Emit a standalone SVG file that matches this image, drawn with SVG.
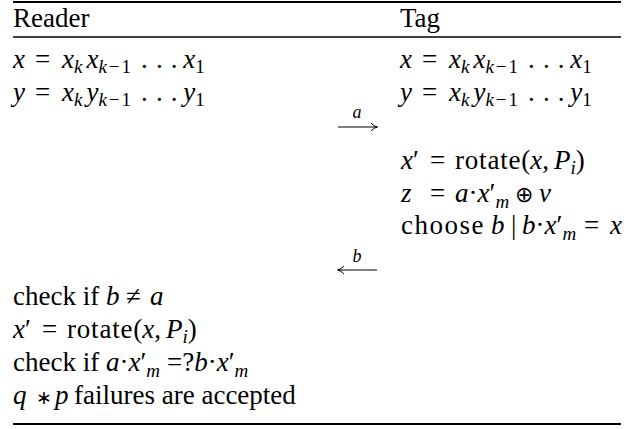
<svg xmlns="http://www.w3.org/2000/svg" width="624" height="429" viewBox="0 0 624 429">
<defs>
<style>
text { font-family: "Liberation Serif", "Times New Roman", serif; font-size: 27px; fill: #000; }
.i { font-style: italic; }
.s { font-size: 19px; }
.op { font-size: 19px; }
.oplus { font-size: 22px; }
.lbl { font-size: 18px; font-style: italic; }
.rule { stroke: #000; }
.msg { stroke: #000; stroke-width: 1.2; fill: none; }
</style>
<marker id="head" viewBox="0 0 10 10" refX="9" refY="5" markerWidth="10" markerHeight="10" markerUnits="userSpaceOnUse" orient="auto-start-reverse">
<path d="M3,1 Q6,4.5 9.5,5 Q6,5.5 3,9" fill="none" stroke="#000" stroke-width="1"/>
</marker>
</defs>
<rect width="624" height="429" fill="#fff"/>
<g id="rules">
<line class="rule" x1="13" y1="2" x2="621" y2="2" stroke-width="2"/>
<line class="rule" x1="13" y1="37" x2="621" y2="37" stroke-width="1.4"/>
<line class="rule" x1="13" y1="424" x2="621" y2="424" stroke-width="2"/>
</g>
<g id="reader">
<text x="13" y="27">Reader</text>
<g id="reader-init">
<text y="68"><tspan class="i" x="13">x</tspan><tspan x="35">=</tspan><tspan class="i" x="62">x</tspan><tspan class="s i" dy="5">k</tspan><tspan class="i" dx="4" dy="-5">x</tspan><tspan class="s" dy="5" letter-spacing="2"><tspan class="i">k</tspan>−1</tspan><tspan dx="8" dy="-5" letter-spacing="0.7">. . .</tspan><tspan class="i" dx="5">x</tspan><tspan class="s" dy="5">1</tspan></text>
<text y="101"><tspan class="i" x="13">y</tspan><tspan x="35">=</tspan><tspan class="i" x="62">x</tspan><tspan class="s i" dy="5">k</tspan><tspan class="i" dx="4" dy="-5">y</tspan><tspan class="s" dy="5" letter-spacing="2"><tspan class="i">k</tspan>−1</tspan><tspan dx="8" dy="-5" letter-spacing="0.7">. . .</tspan><tspan class="i" dx="5">y</tspan><tspan class="s" dy="5">1</tspan></text>
</g>
<text y="305"><tspan x="13">check if </tspan><tspan class="i">b</tspan><tspan x="126">≠</tspan><tspan class="i" x="150">a</tspan></text>
<text y="338"><tspan class="i" x="13">x</tspan><tspan>′</tspan><tspan x="42">=</tspan><tspan x="67" letter-spacing="0.8">rotate</tspan><tspan>(</tspan><tspan class="i">x</tspan><tspan>,</tspan><tspan class="i" dx="5">P</tspan><tspan class="s i" dy="5">i</tspan><tspan dy="-5">)</tspan></text>
<text y="371"><tspan x="13">check if </tspan><tspan class="i">a</tspan><tspan>·</tspan><tspan class="i">x</tspan><tspan>′</tspan><tspan class="s i" dy="6">m</tspan><tspan x="167" dy="-6">=?</tspan><tspan class="i">b</tspan><tspan>·</tspan><tspan class="i">x</tspan><tspan>′</tspan><tspan class="s i" dy="6">m</tspan></text>
<text y="404"><tspan class="i" x="13">q</tspan><tspan class="op" x="36">∗</tspan><tspan class="i" x="55">p</tspan><tspan x="74">failures are accepted</tspan></text>
</g>
<g id="tag">
<text x="400" y="27">Tag</text>
<g id="tag-init" transform="translate(387,0)">
<text y="68"><tspan class="i" x="13">x</tspan><tspan x="35">=</tspan><tspan class="i" x="62">x</tspan><tspan class="s i" dy="5">k</tspan><tspan class="i" dx="4" dy="-5">x</tspan><tspan class="s" dy="5" letter-spacing="2"><tspan class="i">k</tspan>−1</tspan><tspan dx="8" dy="-5" letter-spacing="0.7">. . .</tspan><tspan class="i" dx="5">x</tspan><tspan class="s" dy="5">1</tspan></text>
<text y="101"><tspan class="i" x="13">y</tspan><tspan x="35">=</tspan><tspan class="i" x="62">x</tspan><tspan class="s i" dy="5">k</tspan><tspan class="i" dx="4" dy="-5">y</tspan><tspan class="s" dy="5" letter-spacing="2"><tspan class="i">k</tspan>−1</tspan><tspan dx="8" dy="-5" letter-spacing="0.7">. . .</tspan><tspan class="i" dx="5">y</tspan><tspan class="s" dy="5">1</tspan></text>
</g>
<text y="169"><tspan class="i" x="401">x</tspan><tspan>′</tspan><tspan x="430">=</tspan><tspan x="455" letter-spacing="0.8">rotate</tspan><tspan>(</tspan><tspan class="i">x</tspan><tspan>,</tspan><tspan class="i" dx="5">P</tspan><tspan class="s i" dy="5">i</tspan><tspan dy="-5">)</tspan></text>
<text y="202"><tspan class="i" x="401">z</tspan><tspan x="430">=</tspan><tspan class="i" x="455">a</tspan><tspan>·</tspan><tspan class="i">x</tspan><tspan>′</tspan><tspan class="s i" dy="6">m</tspan><tspan class="oplus" x="515" dy="-6">⊕</tspan><tspan class="i" x="539">ν</tspan></text>
<text y="234"><tspan x="401" letter-spacing="1.5">choose</tspan><tspan class="i" x="491">b</tspan><tspan x="511">|</tspan><tspan class="i" x="522">b</tspan><tspan>·</tspan><tspan class="i">x</tspan><tspan>′</tspan><tspan class="s i" dy="6">m</tspan><tspan x="584" dy="-6">=</tspan><tspan class="i" x="610">x</tspan></text>
</g>
<g id="connectors">
<line class="msg" x1="338" y1="127" x2="377" y2="127" marker-end="url(#head)"/>
<text class="lbl" x="357" y="118" text-anchor="middle">a</text>
<line class="msg" x1="377" y1="270" x2="338" y2="270" marker-end="url(#head)"/>
<text class="lbl" x="357" y="262" text-anchor="middle">b</text>
</g>
</svg>
